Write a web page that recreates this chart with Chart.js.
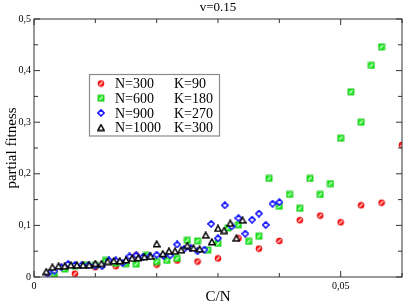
<!DOCTYPE html>
<html>
<head>
<meta charset="utf-8">
<script src="https://cdn.jsdelivr.net/npm/chart.js@4.4.0/dist/chart.umd.min.js"></script>
<style>
  html, body { margin: 0; padding: 0; background: #fff; }
  #wrap { width: 407px; height: 305px; }
</style>
</head>
<body>
<div id="wrap"><canvas id="chart"></canvas></div>
<script>
// C values (x = C/N) and partial fitness per system size
const c300 = [2, 3, 4, 5, 6, 7, 8, 9, 10, 11, 12, 13, 14, 15, 16, 17, 18];
const fit300 = [0.0065, 0.019, 0.021, 0.042, 0.024, 0.032, 0.030, 0.036, 0.075, 0.055, 0.070, 0.110, 0.119, 0.106, 0.139, 0.144, 0.256];

const c600 = [2, 3, 4, 5, 6, 7, 8, 9, 10, 11, 12, 13, 14, 15, 16, 17, 18, 19, 20, 21, 22, 23, 24, 25, 26, 27, 28, 29, 30, 31, 32, 33, 34];
const fit600 = [0.006, 0.0155, 0.021, 0.023, 0.023, 0.032, 0.027, 0.026, 0.025, 0.042, 0.030, 0.032, 0.036, 0.071, 0.070, 0.052, 0.065,
  0.095, 0.101, 0.069, 0.079, 0.191, 0.137, 0.160, 0.133, 0.191, 0.160, 0.181, 0.269, 0.359, 0.300, 0.410, 0.446];

const c900 = [2, 3, 4, 5, 6, 7, 8, 9, 10, 11, 12, 13, 14, 15, 16, 17, 18, 19, 20, 21, 22, 23, 24, 25, 26, 27, 28, 29, 30, 31, 32, 33, 34, 35, 36];
const fit900 = [0.0065, 0.012, 0.019, 0.025, 0.023, 0.023, 0.023, 0.022, 0.021, 0.032, 0.032, 0.027, 0.040, 0.042, 0.039, 0.040, 0.043, 0.041,
  0.042, 0.063, 0.054, 0.056, 0.050, 0.053, 0.103, 0.075, 0.139, 0.098, 0.114, 0.084, 0.111, 0.123, 0.101, 0.142, 0.145];

const c1000 = [2, 3, 4, 5, 6, 7, 8, 9, 10, 11, 12, 13, 14, 15, 16, 17, 18, 19, 20, 21, 22, 23, 24, 25, 26, 27, 28, 29, 30, 31, 32, 33, 34];
const fit1000 = [0.0103, 0.019, 0.021, 0.021, 0.023, 0.023, 0.023, 0.023, 0.026, 0.026, 0.030, 0.031, 0.031, 0.033, 0.036, 0.037, 0.039,
  0.040, 0.064, 0.045, 0.050, 0.050, 0.052, 0.061, 0.056, 0.054, 0.081, 0.068, 0.094, 0.090, 0.104, 0.075, 0.110];

const sizes = [300, 600, 900, 1000];
const kLabels = ['K=90', 'K=180', 'K=270', 'K=300'];

const SERIF = "'Liberation Serif', 'DejaVu Serif', serif";

// Little xmgrace-like symbols drawn on small canvases
function makeSymbol(kind) {
  const c = document.createElement('canvas');
  c.width = 8; c.height = 8;
  const g = c.getContext('2d');
  if (kind === 'circle') {
    g.beginPath();
    g.arc(4, 4, 3, 0, Math.PI * 2);
    g.fillStyle = '#ff1a1a';
    g.fill();
    g.strokeStyle = '#e00000';
    g.lineWidth = 0.8;
    g.stroke();
    g.beginPath();
    g.moveTo(2.4, 5.6); g.lineTo(5.6, 2.4);
    g.strokeStyle = '#ffffff';
    g.lineWidth = 1.1;
    g.stroke();
  } else if (kind === 'square') {
    g.fillStyle = '#22ee22';
    g.fillRect(1, 1, 6, 6);
    g.strokeStyle = '#10c010';
    g.lineWidth = 0.8;
    g.strokeRect(1, 1, 6, 6);
    g.beginPath();
    g.moveTo(2.4, 5.6); g.lineTo(5.6, 2.4);
    g.strokeStyle = '#ffffff';
    g.lineWidth = 1.1;
    g.stroke();
  } else if (kind === 'diamond') {
    g.beginPath();
    g.moveTo(4, 0.9); g.lineTo(7.1, 4); g.lineTo(4, 7.1); g.lineTo(0.9, 4); g.closePath();
    g.fillStyle = '#ffffff';
    g.fill();
    g.strokeStyle = '#1010ff';
    g.lineWidth = 1.5;
    g.stroke();
  } else {
    g.beginPath();
    g.moveTo(4, 1); g.lineTo(7.2, 6.8); g.lineTo(0.8, 6.8); g.closePath();
    g.fillStyle = '#ffffff';
    g.fill();
    g.strokeStyle = '#000000';
    g.lineWidth = 1.5;
    g.stroke();
  }
  return c;
}

const symbols = [makeSymbol('circle'), makeSymbol('square'), makeSymbol('diamond'), makeSymbol('triangle')];

function toPoints(cs, ys, n) {
  return cs.map((c, i) => ({ x: c / n, y: ys[i] }));
}

const seriesC = [c300, c600, c900, c1000];
const seriesY = [fit300, fit600, fit900, fit1000];

const datasets = sizes.map((n, i) => ({
  label: 'N=' + n,
  data: toPoints(seriesC[i], seriesY[i], n),
  pointStyle: symbols[i],
  showLine: false,
  order: 3 - i
}));

// frame, inward ticks, title and legend box
const decor = {
  id: 'decor',
  afterDatasetsDraw(chart) {
    const { ctx, chartArea: a, scales } = chart;
    const xs = scales.x, ys = scales.y;
    ctx.save();
    ctx.strokeStyle = '#333';
    ctx.lineWidth = 1;
    ctx.strokeRect(a.left, a.top, a.right - a.left, a.bottom - a.top);

    ctx.beginPath();
    for (let v = 0; v <= 6; v++) {
      const px = xs.getPixelForValue(v / 100);
      const len = (v % 5 === 0) ? 6 : 4;
      ctx.moveTo(px, a.bottom); ctx.lineTo(px, a.bottom - len);
      ctx.moveTo(px, a.top); ctx.lineTo(px, a.top + len);
    }
    for (let v = 0; v <= 10; v++) {
      const py = ys.getPixelForValue(v / 20);
      const len = (v % 2 === 0) ? 6 : 4;
      ctx.moveTo(a.left, py); ctx.lineTo(a.left + len, py);
      ctx.moveTo(a.right, py); ctx.lineTo(a.right - len, py);
    }
    ctx.stroke();

    // title over the plot area
    ctx.fillStyle = '#000';
    ctx.font = '13px ' + SERIF;
    ctx.textAlign = 'center';
    ctx.textBaseline = 'middle';
    ctx.fillText('v=0.15', (a.left + a.right) / 2, 8);

    // legend box
    const bx = 89.5, by = 74.5, bw = 130, bh = 61.5;
    ctx.fillStyle = '#fff';
    ctx.fillRect(bx, by, bw, bh);
    ctx.strokeStyle = '#8a8a8a';
    ctx.lineWidth = 1.2;
    ctx.strokeRect(bx, by, bw, bh);
    ctx.font = '14px ' + SERIF;
    ctx.textAlign = 'left';
    ctx.fillStyle = '#000';
    sizes.forEach((n, i) => {
      const ry = 83.5 + i * 14.7;
      const s = symbols[i];
      ctx.drawImage(s, 101 - s.width / 2, ry - s.height / 2);
      ctx.fillText('N=' + n, 115, ry + 1);
      ctx.fillText(kLabels[i], 174, ry + 1);
    });
    ctx.restore();
  }
};

function comma(v, digits) {
  return v.toFixed(digits).replace('.', ',');
}

new Chart(document.getElementById('chart'), {
  type: 'scatter',
  data: { datasets: datasets },
  options: {
    responsive: true,
    maintainAspectRatio: false,
    animation: false,
    layout: { padding: { top: 19, right: 5, left: 0, bottom: 0 } },
    plugins: {
      legend: { display: false },
      tooltip: { enabled: false },
      title: { display: false }
    },
    scales: {
      x: {
        type: 'linear',
        min: 0,
        max: 0.06,
        grid: { display: false, drawTicks: false },
        border: { display: false },
        afterFit(scale) { scale.height = 28; },
        ticks: {
          stepSize: 0.01,
          padding: 3,
          color: '#000',
          font: { family: SERIF, size: 10 },
          maxRotation: 0,
          autoSkip: false,
          callback(v) {
            const k = Math.round(v * 100);
            if (k === 0) return '0';
            if (k === 5) return comma(v, 2);
            return '';
          }
        },
        title: {
          display: true,
          text: 'C/N',
          color: '#000',
          font: { family: SERIF, size: 15, lineHeight: 1 },
          padding: { top: 0, bottom: 0 }
        }
      },
      y: {
        type: 'linear',
        min: 0,
        max: 0.5,
        grid: { display: false, drawTicks: false },
        border: { display: false },
        afterFit(scale) { scale.width = 34; },
        ticks: {
          stepSize: 0.05,
          padding: 3,
          color: '#000',
          font: { family: SERIF, size: 10 },
          autoSkip: false,
          callback(v) {
            const k = Math.round(v * 100);
            if (k === 0) return '0';
            if (k % 10 === 0) return comma(v, 1);
            return '';
          }
        },
        title: {
          display: true,
          text: 'partial fitness',
          color: '#000',
          font: { family: SERIF, size: 15, lineHeight: 1 },
          padding: { top: 5, bottom: 0 }
        }
      }
    }
  },
  plugins: [decor]
});
</script>
</body>
</html>
